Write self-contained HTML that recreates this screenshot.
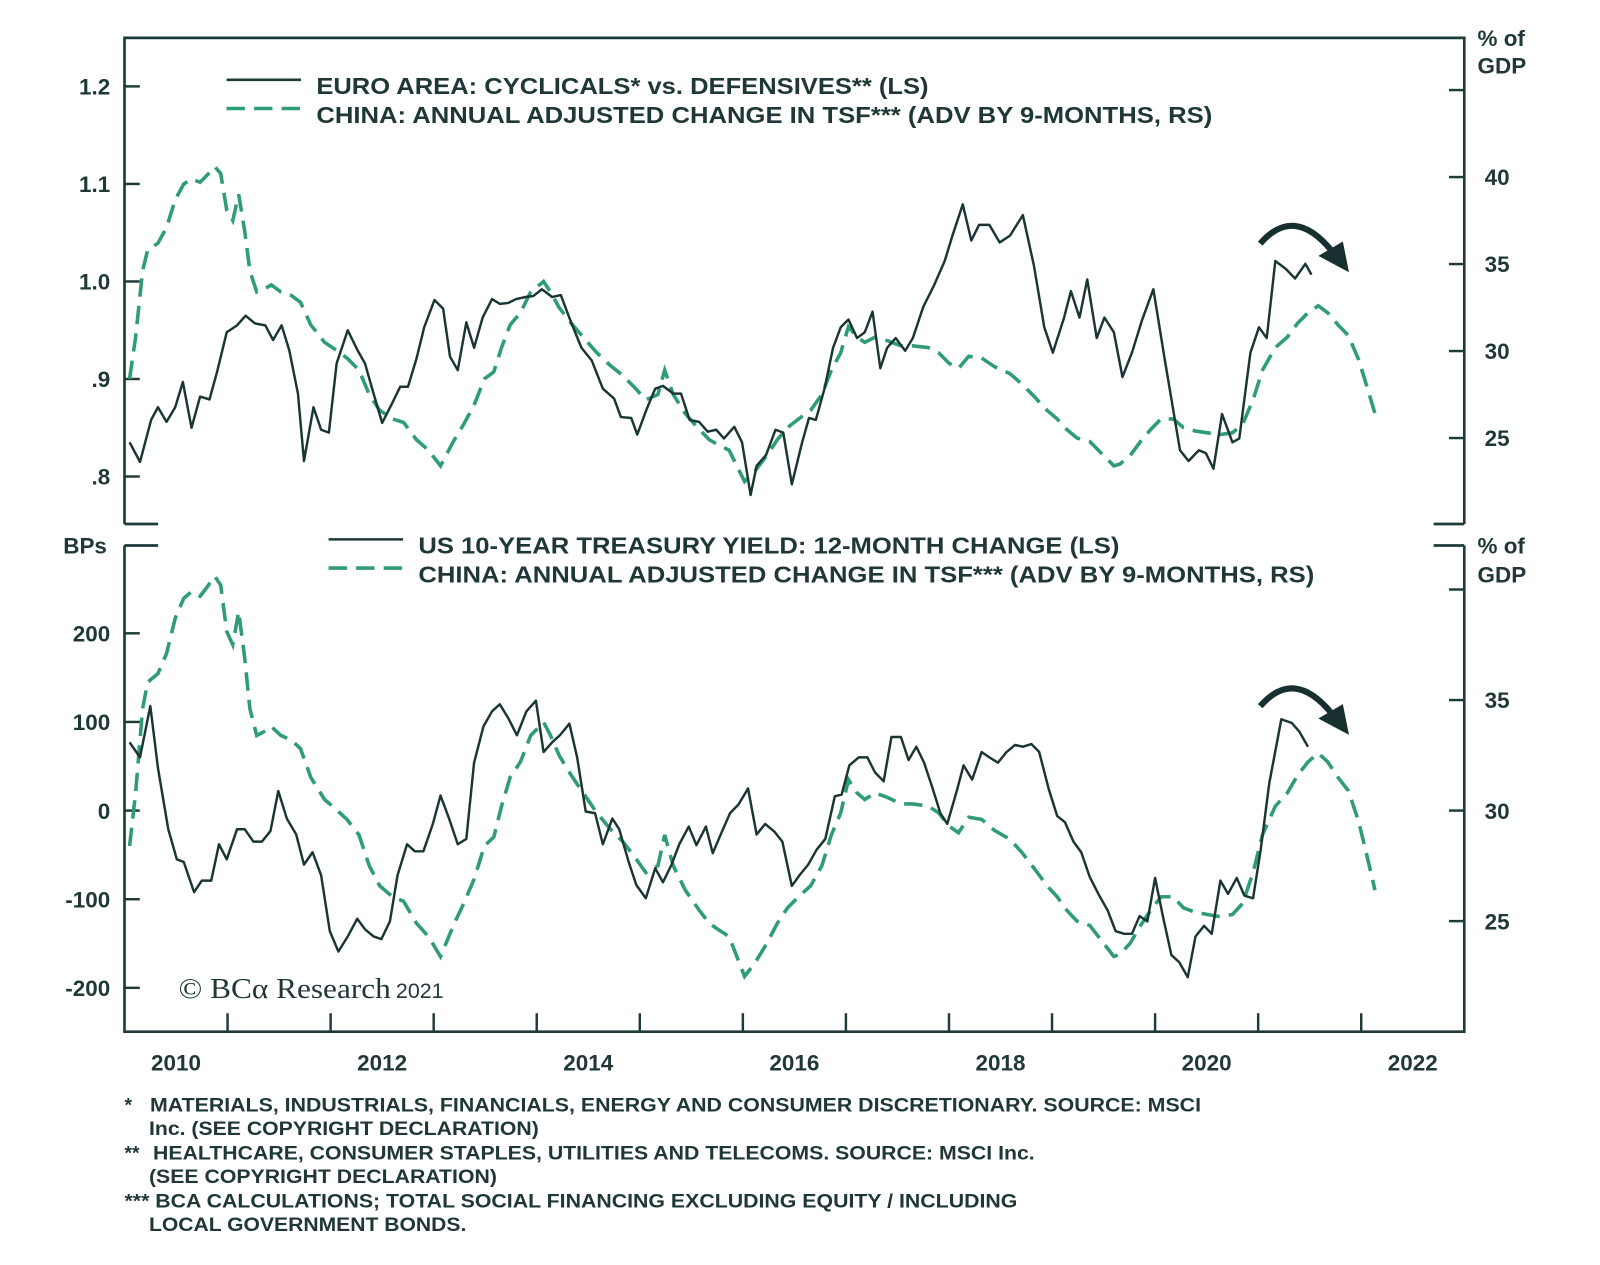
<!DOCTYPE html>
<html><head><meta charset="utf-8"><style>
html,body{margin:0;padding:0;background:#fff;}
svg{display:block;}
text{font-family:"Liberation Sans Narrow","Liberation Sans",sans-serif;font-weight:bold;fill:#1f3837;}
</style></head><body>
<svg id="chart" width="1600" height="1265" viewBox="0 0 1568 1236" preserveAspectRatio="none" xmlns="http://www.w3.org/2000/svg">
<g id="frame" stroke="#1e3a39" stroke-width="2.6" fill="none">
  <path d="M122,512 V37 H1435 V512"/>
  <path d="M122,533 V1008 H1435 V533"/>
  <path d="M122,512 H155 M1405,512 H1435 M122,533 H155 M1405,533 H1435"/>
</g>
<g id="ticks" stroke="#1e3a39" stroke-width="2.4"></g>
<g id="labels"></g>
<g id="series" fill="none"></g>

<g>
  <line x1="222" y1="78" x2="295" y2="78" stroke="#1e3a39" stroke-width="2.5"/>
  <line x1="222" y1="106" x2="295" y2="106" stroke="#2f9c78" stroke-width="3.5" stroke-dasharray="18,9"/>
  <text x="310" y="92" font-size="23" textLength="600" lengthAdjust="spacingAndGlyphs">EURO AREA: CYCLICALS* vs. DEFENSIVES** (LS)</text>
  <text x="310" y="120" font-size="23" textLength="878" lengthAdjust="spacingAndGlyphs">CHINA: ANNUAL ADJUSTED CHANGE IN TSF*** (ADV BY 9-MONTHS, RS)</text>
</g>
<g>
  <line x1="322" y1="527" x2="395" y2="527" stroke="#1e3a39" stroke-width="2.5"/>
  <line x1="322" y1="555" x2="395" y2="555" stroke="#2f9c78" stroke-width="3.5" stroke-dasharray="18,9"/>
  <text x="410" y="541" font-size="23" textLength="687" lengthAdjust="spacingAndGlyphs">US 10-YEAR TREASURY YIELD: 12-MONTH CHANGE (LS)</text>
  <text x="410" y="569" font-size="23" textLength="878" lengthAdjust="spacingAndGlyphs">CHINA: ANNUAL ADJUSTED CHANGE IN TSF*** (ADV BY 9-MONTHS, RS)</text>
</g>
<g>
  <text x="1448" y="45" font-size="22">% of</text>
  <text x="1448" y="72" font-size="22">GDP</text>
  <text x="1448" y="541" font-size="22">% of</text>
  <text x="1448" y="569" font-size="22">GDP</text>
  <text x="62" y="541" font-size="22">BPs</text>
</g>
<g fill="#17302f" stroke="#17302f">
  <path d="M1235,238 Q1268,200 1305,245" fill="none" stroke-width="6"/>
  <polygon points="1292,250 1316,236 1322,266" stroke="none"/>
  <path d="M1235,690 Q1268,652 1305,697" fill="none" stroke-width="6"/>
  <polygon points="1292,702 1316,688 1322,718" stroke="none"/>
</g>
<g>
  <text x="175" y="975" font-size="28" style="font-family:'Liberation Serif',serif;font-weight:normal" textLength="208" lengthAdjust="spacingAndGlyphs">© BCα Research</text>
  <text x="388" y="975" font-size="21" style="font-weight:normal">2021</text>
</g>
<g font-size="19">
  <text x="122" y="1086">*</text>
  <text x="147" y="1086" font-size="19" textLength="1030" lengthAdjust="spacingAndGlyphs">MATERIALS, INDUSTRIALS, FINANCIALS, ENERGY AND CONSUMER DISCRETIONARY. SOURCE: MSCI</text>
  <text x="146" y="1109" font-size="19" textLength="382" lengthAdjust="spacingAndGlyphs">Inc. (SEE COPYRIGHT DECLARATION)</text>
  <text x="122" y="1133">**</text>
  <text x="150" y="1133" font-size="19" textLength="864" lengthAdjust="spacingAndGlyphs">HEALTHCARE, CONSUMER STAPLES, UTILITIES AND TELECOMS. SOURCE: MSCI Inc.</text>
  <text x="146" y="1156" font-size="19" textLength="341" lengthAdjust="spacingAndGlyphs">(SEE COPYRIGHT DECLARATION)</text>
  <text x="122" y="1180" font-size="19" textLength="875" lengthAdjust="spacingAndGlyphs">*** BCA CALCULATIONS; TOTAL SOCIAL FINANCING EXCLUDING EQUITY / INCLUDING</text>
  <text x="146" y="1203" font-size="19" textLength="311" lengthAdjust="spacingAndGlyphs">LOCAL GOVERNMENT BONDS.</text>
</g>
</svg>
<script>
// months since Jan 2010
const euroMonths=[0.6,1.8,3.1,3.9,4.9,5.9,6.8,7.8,8.8,9.9,10.8,11.9,13.1,14.1,15.2,16.4,17.3,18.3,19.2,20.2,20.9,22.0,22.9,23.8,24.7,26.0,27.1,28.0,29.0,30.0,31.1,32.1,33.0,34.0,34.9,36.1,37.1,37.9,38.8,39.8,40.7,41.7,42.8,43.7,44.7,45.6,46.7,47.6,48.6,49.8,50.8,52.0,53.2,54.4,55.7,57.0,57.8,59.0,59.7,60.8,61.8,62.7,63.9,64.8,65.8,66.9,67.9,68.9,69.8,71.0,71.9,72.9,73.6,74.7,75.8,76.7,77.7,78.9,79.7,80.5,81.5,82.5,83.4,84.3,85.3,86.2,87.1,88.0,88.8,89.8,90.9,91.8,93.0,94.2,95.5,96.4,97.6,98.6,99.5,100.7,101.9,103.1,104.6,105.9,107.1,108.1,109.4,110.2,111.2,112.1,113.2,114.1,115.2,116.2,117.3,118.5,119.8,121.1,122.9,123.9,125.1,125.9,126.8,127.8,129.0,129.8,131.1,132.1,133.0,134.0,135.2,136.3,137.5,138.2];
const euroValues=[.835,.815,.858,.871,.856,.871,.897,.850,.882,.879,.908,.948,.955,.965,.957,.955,.940,.955,.929,.885,.816,.871,.848,.845,.916,.950,.930,.916,.885,.855,.874,.892,.892,.921,.953,.981,.972,.923,.909,.958,.932,.963,.982,.977,.978,.982,.984,.985,.992,.984,.986,.958,.932,.919,.890,.880,.861,.860,.843,.869,.890,.893,.885,.885,.858,.856,.846,.848,.839,.851,.835,.781,.811,.822,.848,.845,.792,.835,.860,.858,.890,.932,.953,.961,.942,.948,.969,.911,.932,.942,.929,.942,.974,.995,1.021,1.047,1.079,1.042,1.058,1.058,1.040,1.047,1.068,1.016,.953,.927,.963,.990,.963,1.002,.942,.963,.948,.902,.927,.961,.992,.921,.827,.816,.827,.824,.808,.864,.835,.839,.927,.953,.942,1.021,1.013,1.003,1.018,1.007];
const tsfMonths=[0.6,1.3,2.1,2.7,3.9,4.9,5.9,6.9,7.8,8.8,9.6,10.5,11.2,11.9,12.6,13.3,14.0,14.6,15.4,16.4,17.1,18.2,19.4,20.5,21.7,23.3,24.5,25.9,27.3,28.5,29.7,31.2,32.5,34.0,35.4,36.8,38.4,39.5,40.7,41.9,43.0,43.9,44.9,46.1,47.3,48.8,49.6,50.6,52.0,53.4,55.0,56.5,58.0,59.4,60.7,62.1,62.9,63.9,65.3,66.9,68.1,69.2,70.4,71.3,72.2,73.4,74.8,76.0,77.2,78.5,79.9,81.2,82.3,83.4,84.3,85.3,86.2,87.4,88.8,90.4,91.8,93.6,94.8,96.0,97.1,98.3,99.8,101.3,103.1,104.5,105.9,107.4,108.6,109.7,110.9,112.4,113.8,115.2,115.9,117.1,118.3,119.5,120.7,122.1,123.3,124.7,126.1,127.6,129.0,130.2,131.4,132.5,134.0,135.4,136.6,137.8,139.0,140.1,141.3,142.5,143.7,144.7,145.6];
const tsfValues=[28.4,30.8,34.6,35.8,36.2,37.1,38.7,39.6,39.9,39.7,40.1,40.6,40.2,38.1,37.5,39.0,36.9,34.6,33.4,33.6,33.8,33.4,33.2,32.8,31.5,30.5,30.1,29.6,28.9,27.5,26.6,26.1,25.9,24.9,24.3,23.4,24.9,25.8,26.9,28.4,28.8,30.2,31.5,32.2,33.4,34.0,33.4,32.5,31.6,30.8,29.9,29.2,28.6,27.9,27.2,27.5,28.9,27.5,26.4,25.5,24.9,24.6,24.3,23.4,22.5,23.1,24.0,24.9,25.6,26.1,26.6,27.5,28.9,29.9,31.4,30.8,30.5,30.8,30.6,30.3,30.3,30.2,29.9,29.3,29.0,29.7,29.6,29.1,28.7,28.1,27.4,26.6,26.1,25.5,25.0,24.8,24.1,23.4,23.5,24.0,24.8,25.5,26.1,26.1,25.6,25.4,25.3,25.2,25.3,25.8,27.2,28.9,30.2,30.8,31.6,32.2,32.6,32.2,31.5,30.9,29.5,27.9,26.4];
const usMonths=[0.6,1.8,3.0,3.9,5.1,6.1,6.9,8.1,9.0,10.1,11.0,11.9,13.1,14.0,15.0,16.0,17.0,17.9,18.9,20.0,20.9,21.9,22.9,23.9,24.9,26.0,27.1,28.0,29.0,29.9,30.9,31.8,32.9,33.8,34.8,35.9,36.8,37.8,38.8,39.8,40.7,41.8,42.8,43.7,44.7,45.7,46.8,47.9,48.8,49.8,50.7,51.8,52.7,53.7,54.8,55.7,56.8,57.6,58.7,59.6,60.7,61.8,62.7,63.7,64.6,65.7,66.6,67.7,68.5,69.6,70.5,71.5,72.6,73.6,74.6,75.7,76.6,77.7,78.6,79.6,80.6,81.6,82.7,83.5,84.4,85.5,86.5,87.4,88.4,89.3,90.4,91.3,92.2,93.1,94.1,95.0,95.8,96.9,97.7,98.7,99.8,100.7,101.7,102.7,103.7,104.6,105.6,106.5,107.6,108.6,109.5,110.5,111.4,112.4,113.5,114.5,115.4,116.4,117.3,118.2,119.1,120.0,120.9,121.9,122.8,123.8,124.7,125.7,126.6,127.6,128.5,129.5,130.4,131.4,132.3,133.3,134.7,135.9,136.8,137.8];
const usValues=[77,60,118,48,-21,-55,-58,-92,-79,-79,-38,-55,-21,-21,-35,-35,-23,22,-9,-27,-61,-47,-73,-136,-159,-142,-122,-134,-142,-145,-125,-73,-38,-46,-46,-15,17,-9,-38,-32,54,95,112,120,104,85,112,124,66,77,85,98,60,-1,-3,-38,-9,-21,-58,-84,-99,-65,-81,-61,-38,-18,-39,-18,-48,-23,-3,7,25,-27,-15,-24,-35,-85,-73,-61,-44,-32,16,18,51,60,60,43,33,83,83,57,72,54,25,-3,-15,22,51,35,66,60,54,66,74,72,75,66,25,-6,-13,-35,-47,-75,-96,-113,-136,-139,-139,-119,-125,-76,-119,-163,-171,-188,-142,-130,-139,-79,-94,-76,-96,-99,-44,31,103,99,89,72];
const yearLabels=["2010","2012","2014","2016","2018","2020","2022"];
const topLeftTicks=[1.2,1.1,1.0,0.9,0.8];
const topLeftLabels=["1.2","1.1","1.0",".9",".8"];
const topRightTicks=[45,40,35,30,25];
const botLeftTicks=[200,100,0,-100,-200];
const botRightTicks=[40,35,30,25];

const NS="http://www.w3.org/2000/svg";
const X0=122,X1=1435,START=2010,END=2023;
function xm(m){return X0+(m/12)/(END-START)*(X1-X0);}
function xy(yr){return X0+(yr-START)/(END-START)*(X1-X0);}
function yTL(v){return 275-(v-1.0)*953;}
function yTR(v){return 343-(v-30)*17;}
function yBL(v){return 792-v*0.866;}
function yBR(v){return 792-(v-30)*21.6;}
function mk(tag,attrs,parent){const e=document.createElementNS(NS,tag);for(const k in attrs)e.setAttribute(k,attrs[k]);parent.appendChild(e);return e;}
const ticks=document.getElementById('ticks'),labels=document.getElementById('labels'),series=document.getElementById('series');
topLeftTicks.forEach((v,i)=>{const y=yTL(v);
  const t=mk('line',{x1:122,x2:137,y1:y,y2:y},ticks);
  
  
  const l=mk('text',{x:108,y:y+8,'text-anchor':'end','font-size':22},labels);l.textContent=topLeftLabels[i];
  
  });
topRightTicks.forEach(v=>{const y=yTR(v);
  const t=mk('line',{x1:1420,x2:1435,y1:y,y2:y},ticks);
  
  
  if(v<45){const l=mk('text',{x:1455,y:y+8,'font-size':22},labels);l.textContent=v;
  
  }});
botLeftTicks.forEach(v=>{const y=yBL(v);
  const t=mk('line',{x1:122,x2:137,y1:y,y2:y},ticks);
  
  
  const l=mk('text',{x:108,y:y+8,'text-anchor':'end','font-size':22},labels);l.textContent=v;
  
  });
botRightTicks.forEach(v=>{const y=yBR(v);
  const t=mk('line',{x1:1420,x2:1435,y1:y,y2:y},ticks);
  
  
  if(v<40){const l=mk('text',{x:1455,y:y+8,'font-size':22},labels);l.textContent=v;
  
  }});
for(let yr=START+1;yr<END;yr++){const x=xy(yr);
  const t=mk('line',{x1:x,x2:x,y1:1008,y2:990},ticks);
  
  }
yearLabels.forEach(s=>{const l=mk('text',{x:xy(+s+0.5),y:1046,'text-anchor':'middle','font-size':22},labels);l.textContent=s;
  
  });
function line(ms,vs,yf,attrs){return mk('path',Object.assign({d:ms.map((m,i)=>(i?'L':'M')+xm(m).toFixed(1)+','+yf(vs[i]).toFixed(1)).join(' ')},attrs),series);}
const a=line(tsfMonths,tsfValues,yTR,{stroke:'#2f9c78','stroke-width':3.5,'stroke-dasharray':'18,9'});


const b=line(euroMonths,euroValues,yTL,{stroke:'#1a3534','stroke-width':2.4,'stroke-linejoin':'round'});


const c=line(tsfMonths,tsfValues,yBR,{stroke:'#2f9c78','stroke-width':3.5,'stroke-dasharray':'18,9'});


const d=line(usMonths,usValues,yBL,{stroke:'#1a3534','stroke-width':2.4,'stroke-linejoin':'round'});


</script>
</body></html>
